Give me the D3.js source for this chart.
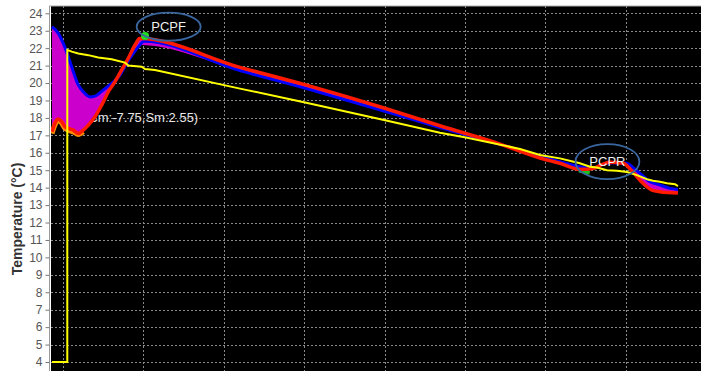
<!DOCTYPE html>
<html>
<head>
<meta charset="utf-8">
<script src="https://cdn.jsdelivr.net/npm/d3@7"></script>
<style>
  body { margin: 0; background: #fff; }
  svg { display: block; font-family: Arial, "Liberation Sans", sans-serif; }
</style>
</head>
<body>
<svg width="701" height="371"></svg>
<script>
// time in minutes from start of log, temperature in °C
const blueT = [0, 4.7, 8.4, 12.2, 15.9, 19.6, 23.3, 28.3, 32.1, 38.3, 44.5, 50.7, 55.7, 60.6, 65.6, 68.4,
  140.2, 187.9, 247.6, 289.3, 334.1, 363.9, 378.8, 393.7, 403.4, 410.9, 418.3, 428.8, 432.5, 438.5, 445.9, 453.4, 460.8, 466.8];
const blueV = [23.23, 22.85, 22.28, 21.5, 20.65, 19.89, 19.5, 19.2, 19.25, 19.6, 19.98, 20.46, 21.13, 21.7, 22.2, 22.4,
  20.72, 19.72, 18.4, 17.45, 16.48, 15.8, 15.49, 15.2, 15.1, 15.35, 15.43, 15.4, 15.2, 14.82, 14.34, 14.15, 13.96, 13.9];

const redT = [0, 2.2, 4.7, 7.2, 9.7, 12.2, 15.9, 19.6, 23.3, 27.1, 32.1, 37.1, 42.0, 47.0, 52.0, 56.9, 61.9, 65.4,
  140.2, 187.9, 247.6, 289.3, 334.1, 363.9, 378.8, 393.7, 403.4, 410.9, 416.1, 425.8, 433.2, 440.7, 447.4, 453.4, 466.8];
const redV = [17.2, 17.69, 17.94, 17.78, 17.49, 17.4, 17.3, 17.1, 17.3, 17.59, 18.07, 18.74, 19.5, 20.08, 20.75, 21.42, 22.18, 22.55,
  20.9, 19.92, 18.57, 17.55, 16.5, 15.7, 15.4, 15.05, 15.1, 15.35, 15.45, 15.4, 14.9, 14.25, 13.86, 13.77, 13.7];

const orangeT = [0, 2.2, 4.7, 7.2, 9.7, 12.2, 15.9, 19.6, 23.3];
const orangeV = [17.1, 17.6, 17.85, 17.7, 17.4, 17.3, 17.2, 17.05, 17.2];

const yellowT = [0, 11.4, 11.4, 14.7, 19.6, 27.1, 34.5, 44.5, 54.4, 57.0, 66.9, 69.4, 76.8,
  140.2, 187.9, 247.6, 289.3, 308.7, 349.0, 363.9, 378.8, 393.7, 401.2, 406.4, 413.9, 421.3, 428.8, 436.2, 443.7, 448.2, 453.4, 458.6, 464.6, 466.8];
const yellowV = [4.0, 4.0, 21.9, 21.8, 21.7, 21.6, 21.47, 21.36, 21.17, 21.0, 20.94, 20.8, 20.75,
  19.68, 18.9, 17.88, 17.15, 16.88, 16.22, 15.87, 15.68, 15.4, 15.2, 15.16, 15.0, 14.97, 14.9, 14.72, 14.48, 14.4, 14.34, 14.25, 14.2, 14.09];

const greenT = [393.0, 397.5, 401.0];
const greenV = [15.0, 14.9, 14.85];

const yTicks = d3.range(4, 25);
const gridMinutes = [8, 68, 128, 188, 248, 308, 368, 428, 488];

const notes = [
  { t: 87, v: 23.23, label: 'PCPF' },
  { t: 414.2, v: 15.49, label: 'PCPR' }
];
const peakMarker = { t: 69.4, v: 22.7 };
const statsLabel = { t: 23.9, v: 18.0, text: '(Cm:-7.75,Sm:2.55)' };

const [W, H] = [701, 371];
const padL = 51, padT = 6;

const svg = d3.select('svg');

const x = d3.scaleLinear().domain([0, 484]).range([52, 701]);
const y = d3.scaleLinear().domain([4, 24]).range([362, 13.3]);

const zip = (ts, vs) => ts.map((t, i) => ({ t: t, v: vs[i] }));
const blue = zip(blueT, blueV);
const red = zip(redT, redV);

svg.append('defs').append('clipPath').attr('id', 'plot')
  .append('rect').attr('x', padL).attr('y', padT).attr('width', W - padL).attr('height', H - padT);

svg.append('rect')
  .attr('x', padL).attr('y', padT)
  .attr('width', W - padL).attr('height', H - padT)
  .attr('fill', '#000');

svg.append('line')
  .attr('x1', 49).attr('x2', W).attr('y1', padT).attr('y2', padT)
  .attr('stroke', '#aaa');

const plot = svg.append('g').attr('clip-path', 'url(#plot)');

// dotted grid
plot.selectAll('.hgrid')
  .data(yTicks.concat([3]))
  .enter().append('line')
    .attr('x1', padL).attr('x2', W)
    .attr('y1', d => Math.round(y(d)) + 0.5).attr('y2', d => Math.round(y(d)) + 0.5)
    .attr('stroke', '#8a8a8a').attr('stroke-dasharray', '2,2');

plot.selectAll('.vgrid')
  .data(gridMinutes)
  .enter().append('line')
    .attr('x1', d => Math.round(x(d)) + 0.5).attr('x2', d => Math.round(x(d)) + 0.5)
    .attr('y1', padT).attr('y2', H)
    .attr('stroke', '#8a8a8a').attr('stroke-dasharray', '2,2');

// label sits under the band, like the original
plot.append('text')
  .attr('x', x(statsLabel.t)).attr('y', y(statsLabel.v))
  .attr('dy', '0.35em')
  .attr('fill', '#e6e6e6')
  .style('font-size', '13px')
  .text(statsLabel.text);

const band = d3.area()
  .x(d => x(d.t))
  .y0(d => y(d.v))
  .y1(d => y(d.v2))
  .curve(d3.curveMonotoneX);

// band between blue and red, sampled on the red times
const blueAt = t => {
  const i = d3.bisector(d => d.t).left(blue, t);
  if (i <= 0) return blue[0].v;
  if (i >= blue.length) return blue[blue.length - 1].v;
  const a = blue[i - 1], b = blue[i];
  return a.v + (b.v - a.v) * (t - a.t) / (b.t - a.t);
};
plot.append('path')
  .datum(red.map(d => ({ t: d.t, v: d.v, v2: blueAt(d.t) })))
  .attr('d', band)
  .attr('fill', '#cc00cc');

const line = d3.line().x(d => x(d.t)).y(d => y(d.v));
const smooth = d3.line().x(d => x(d.t)).y(d => y(d.v)).curve(d3.curveMonotoneX);

plot.append('path').datum(zip(orangeT, orangeV))
  .attr('d', smooth).attr('fill', 'none')
  .attr('stroke', '#ff8c00').attr('stroke-width', 5);

plot.append('path').datum(zip(greenT, greenV))
  .attr('d', line).attr('fill', 'none')
  .attr('stroke', '#22bb22').attr('stroke-width', 4);

plot.append('path').datum(blue)
  .attr('d', smooth).attr('fill', 'none')
  .attr('stroke', '#0000ff').attr('stroke-width', 3);

plot.append('path').datum(red)
  .attr('d', smooth).attr('fill', 'none')
  .attr('stroke', '#ff1a00').attr('stroke-width', 3.5);

plot.append('path').datum(zip(yellowT, yellowV))
  .attr('d', line).attr('fill', 'none')
  .attr('stroke', '#ffff00').attr('stroke-width', 2);

plot.append('circle')
  .attr('cx', x(peakMarker.t)).attr('cy', y(peakMarker.v))
  .attr('r', 4).attr('fill', '#22dd22');

// PCPF / PCPR call-outs
const note = plot.selectAll('.note').data(notes).enter().append('g');
note.append('ellipse')
  .attr('cx', d => x(d.t)).attr('cy', d => y(d.v))
  .attr('rx', 32).attr('ry', (d, i) => i ? 17.5 : 14)
  .attr('fill', 'none').attr('stroke', '#3a66a0').attr('stroke-width', 1.8);
note.append('text')
  .attr('x', d => x(d.t)).attr('y', d => y(d.v))
  .attr('dy', '0.35em')
  .attr('text-anchor', 'middle')
  .attr('fill', '#eeeeee')
  .style('font-size', '13px')
  .text(d => d.label);

// y axis
const yAxis = d3.axisLeft(y).tickValues(yTicks).tickSize(4).tickPadding(3);
const ax = svg.append('g')
  .attr('transform', 'translate(49.5,0)')
  .call(yAxis);
ax.select('.domain').attr('stroke', '#999').attr('d', `M0,${padT}V${H}`);
ax.selectAll('.tick line').attr('stroke', '#777');
ax.selectAll('.tick text')
  .attr('fill', '#555')
  .style('font-size', '12px')
  .style('font-family', 'Arial, "Liberation Sans", sans-serif');

svg.append('text')
  .attr('transform', 'rotate(-90)')
  .attr('x', -219).attr('y', 17)
  .attr('dy', '0.35em')
  .attr('text-anchor', 'middle')
  .attr('fill', '#333')
  .style('font-size', '14px')
  .style('font-weight', 'bold')
  .text('Temperature (°C)');
</script>
</body>
</html>
